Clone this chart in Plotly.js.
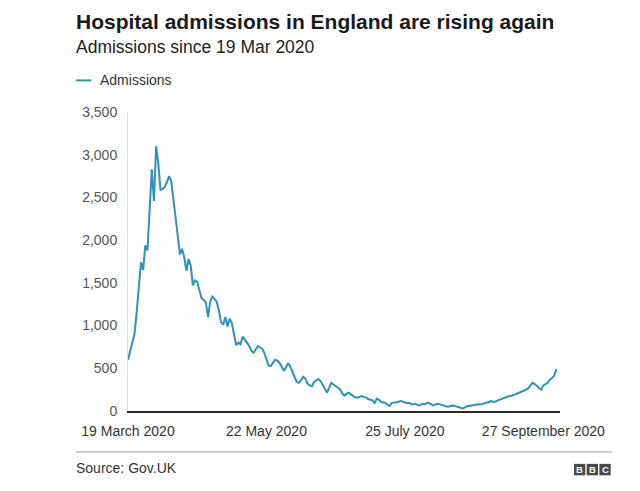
<!DOCTYPE html>
<html><head><meta charset="utf-8">
<script src="https://cdn.plot.ly/plotly-3.0.1.min.js"></script>
<style>html,body{margin:0;padding:0;background:#fff;}#chart{width:640px;height:491px;}</style>
</head><body><div id="chart"></div>
<script>
// Daily admissions, England, from 19 March 2020
const startDate = '2020-03-19';
const admissions = [
 600,700,820,900,1150,1500,1740,1650,1940,1880,
 2300,2830,2460,3100,2900,2590,2600,2620,2680,2750,
 2690,2450,2250,2050,1830,1900,1800,1640,1780,1700,
 1470,1530,1510,1420,1320,1300,1270,1100,1280,1340,
 1310,1280,1180,1040,1010,1100,990,1080,1030,900,
 770,800,780,870,840,800,760,710,680,720,
 760,745,730,680,600,530,525,560,600,590,
 565,520,470,510,560,520,450,400,340,330,
 360,400,380,320,300,290,340,360,375,350,
 310,260,215,270,330,310,290,275,255,210,
 180,200,215,195,175,160,155,165,175,165,
 160,140,135,125,95,145,130,105,100,95,
 70,60,95,100,98,105,120,110,95,90,
 95,80,78,85,70,65,85,78,90,95,
 80,65,75,85,80,70,60,55,50,58,
 65,60,50,42,35,30,48,55,60,65,
 62,70,78,75,82,92,100,110,115,105,
 110,125,135,145,155,160,172,175,190,195,
 205,218,232,240,250,262,300,330,315,290,
 270,250,300,315,330,365,385,410,490
];
const seriesName = 'Admissions';
const tickDates = ['2020-03-19','2020-05-22','2020-07-25','2020-09-27'];
const tickLabels = ['19 March 2020','22 May 2020','25 July 2020','27 September 2020'];
const yTicks = [0,500,1000,1500,2000,2500,3000,3500];

const dates = admissions.map((v,i) => {
  const d = new Date(startDate + 'T00:00:00Z');
  d.setUTCDate(d.getUTCDate() + i);
  return d.toISOString().slice(0,10);
});

const W = 640, H = 491;
const M = {l:127.8, r:80, t:111.7, b:79.5};
const PW = W - M.l - M.r, PH = H - M.t - M.b;
const px = x => (x - M.l) / PW;
const py = y => (H - M.b - y) / PH;

const lineColor = '#2f92b6';
const font = 'Liberation Sans, Arial, Helvetica, sans-serif';

const trace = {
  x: dates, y: admissions, type: 'scatter', mode: 'lines', name: seriesName,
  line: {color: lineColor, width: 2}, hoverinfo: 'x+y'
};

const bbc = ['B','B','C'];
const shapes = [
  {type:'line', xref:'paper', yref:'paper', x0:px(76), x1:px(91), y0:py(80), y1:py(80), line:{color:lineColor, width:2}},
  {type:'line', xref:'paper', yref:'paper', x0:px(76), x1:px(612), y0:py(452.5), y1:py(452.5), line:{color:'#9a9a9a', width:1}}
];
const annotations = [
  {text:'Admissions since 19 Mar 2020', xref:'paper', yref:'paper', x:px(74), y:py(47), xanchor:'left', yanchor:'middle', showarrow:false, font:{family:font, size:17.5, color:'#222'}},
  {text:seriesName, xref:'paper', yref:'paper', x:px(98), y:py(80), xanchor:'left', yanchor:'middle', showarrow:false, font:{family:font, size:14, color:'#333'}},
  {text:'Source: Gov.UK', xref:'paper', yref:'paper', x:px(74), y:py(469), xanchor:'left', yanchor:'middle', showarrow:false, font:{family:font, size:14, color:'#333'}}
];
bbc.forEach((ch, i) => {
  const x0 = 574 + i * 12.7;
  shapes.push({type:'rect', xref:'paper', yref:'paper', x0:px(x0), x1:px(x0 + 11.3), y0:py(476), y1:py(464.5), fillcolor:'#4a4a4a', line:{width:0}});
  annotations.push({text:'<b>' + ch + '</b>', xref:'paper', yref:'paper', x:px(x0 + 5.65), y:py(470.3), xanchor:'center', yanchor:'middle', showarrow:false, font:{family:font, size:9.5, color:'#fff'}});
});

const layout = {
  width: W, height: H,
  margin: {l:M.l, r:M.r, t:M.t, b:M.b, pad:0},
  paper_bgcolor:'#fff', plot_bgcolor:'#fff',
  font:{family:font, color:'#333'},
  showlegend:false,
  title:{text:'Hospital admissions in England are rising again', xref:'container', yref:'container', x:76/W, xanchor:'left', y:1 - 22/H, yanchor:'middle', font:{family:font, size:21, weight:700, color:'#1a1a1a'}},
  xaxis:{type:'date', range:['2020-03-19','2020-10-04 17:00'], tickvals:tickDates, ticktext:tickLabels, ticks:'', showgrid:false, zeroline:false, showline:true, linecolor:'#2a2a2a', linewidth:2, tickfont:{family:font, size:14, color:'#333'}, ticklabelstandoff:6, fixedrange:true},
  yaxis:{range:[0,3500], tickvals:yTicks, tickformat:',d', ticks:'', showgrid:false, zeroline:false, showline:true, linecolor:'#dddddd', linewidth:1, tickfont:{family:font, size:14, color:'#555'}, ticklabelstandoff:7, fixedrange:true},
  shapes: shapes,
  annotations: annotations
};

Plotly.newPlot('chart', [trace], layout, {displayModeBar:false, staticPlot:true});
</script>
</body></html>
